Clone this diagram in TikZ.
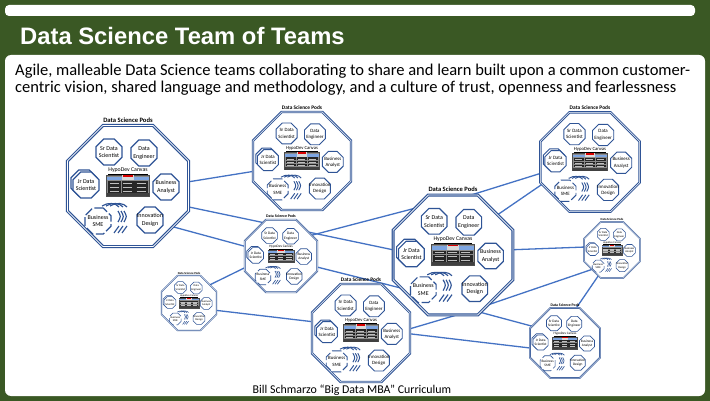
\documentclass[tikz,border=0pt]{standalone}
\usepackage{fontspec}
\setmainfont{Carlito}
\newfontfamily\titlefont{Liberation Sans}
\usetikzlibrary{shapes.geometric}

\definecolor{slidegreen}{RGB}{58,88,36}
\definecolor{podblue}{RGB}{47,84,150}
\definecolor{linkblue}{RGB}{68,114,196}
\definecolor{canvasblue}{RGB}{125,165,225}

\pgfdeclarelayer{panel}
\pgfdeclarelayer{links}
\pgfsetlayers{panel,links,main}

\tikzset{
  octa/.style={regular polygon, regular polygon sides=8, inner sep=0pt, draw=podblue, fill=white},
  podedge/.style={octa, minimum size=131pt, double=white},
  role/.style={octa, minimum size=28pt},
  roletext/.style={font=\fontsize{6}{7.6}\selectfont, align=center, inner sep=0pt},
  podtitle/.style={font=\bfseries\fontsize{6.6}{7.5}\selectfont, inner sep=0pt},
  link/.style={draw=linkblue, line width=1.3pt},
}

% one small role octagon: [style] name, position, text
\newcommand\role[4][]{%
  \node[role,#1] (#2) at (#3) {};
  \node[roletext] (#2-text) at (#2) {#4};}

% one pod: name, x, y, scale
\newcommand\pod[4]{%
  \pgfmathsetmacro\podlw{1.15*#4}%
  \pgfmathsetmacro\poddd{0.7*#4}%
  \begin{scope}[shift={(#2,#3)}, scale=#4, transform shape, line width=\podlw pt]
    \node[podedge, line width=\podlw pt, double distance=\poddd pt] (#1) at (0,0) {};
    \node[podtitle] (#1-title) at (0,-66) {Data Science Pods};
    \role{#1-sr}{-19,-34}{Sr Data\\Scientist}
    \role{#1-eng}{16,-33}{Data\\Engineer}
    \node[role] (#1-jrback) at (-44,-3) {};
    \role{#1-jr}{-42,-1}{Jr Data\\Scientist}
    \role{#1-ba}{38,1}{Business\\Analyst}
    \role[dash pattern=on 9pt off 2.5pt]{#1-sme}{-30,35}{Business\\SME}
    \role{#1-inno}{22,34}{Innovation\\Design}
    % swooshes round the SME
    \foreach \i in {0,1,2} {
      \draw[podblue] (-26+4*\i,20) .. controls (-20+4*\i,16) and (-12+4*\i,17) .. (-9+4*\i,21);
      \draw[podblue] (-10+3*\i,25) .. controls (-7+3*\i,30.5) .. (-10+3*\i,36);
      \draw[podblue] (-14+4*\i,47) -- (-9+4*\i,40);
    }
    % HypoDev canvas
    \node[font=\fontsize{5.8}{7}\selectfont, inner sep=0pt] (#1-canvastitle) at (0,-15) {\underline{HypoDev Canvas}};
    \node[draw=black!70, fill=black!45, minimum width=43pt, minimum height=21pt, inner sep=0pt, line width=0.4*\podlw pt] (#1-canvas) at (0,0) {};
    \fill[canvasblue] (-21,-9) rectangle (21,-5.5);
    \fill[black!15] (-6,-10.5) rectangle (6,-5.5);
    \fill[red!85!black] (-5,-10.5) rectangle (5,-9);
    \foreach \cx in {-20,-6.5,7}
      \foreach \cy in {-4.5,-0.5,3.5} {
        \fill[black!85] (\cx,\cy) rectangle ++(13,3.2);
        \draw[white!75!black, line width=0.3*\podlw pt] (\cx+1.5,\cy+1.6) -- ++(9,0);
      }
    \fill[black!75] (-21,7.5) rectangle (21,10.5);
  \end{scope}}

\begin{document}
\begin{tikzpicture}[x=1pt,y=-1pt]
  \useasboundingbox (0,0) rectangle (710,401);
  \begin{pgfonlayer}{panel}
    \fill[slidegreen] (0,0) rectangle (710,401);
    \fill[white, rounded corners=4pt] (5,5) rectangle (695,16);
    \fill[white, rounded corners=6pt] (5,55) rectangle (705,396);
  \end{pgfonlayer}

  \node[font=\titlefont\bfseries\fontsize{23.8}{26}\selectfont, text=white, anchor=west, inner sep=0pt] (title) at (20,36) {Data Science Team of Teams};
  \node[font=\fontsize{16.5}{16.5}\selectfont, anchor=north west, align=left, inner sep=0pt] (subtitle) at (15,64)
    {Agile, malleable Data Science teams collaborating to share and learn built upon a common customer-\\centric vision, shared language and methodology, and a culture of trust, openness and fearlessness};

  \pod{podA}{128}{186}{1}
  \pod{podB}{302}{161}{0.81}
  \pod{podC}{590}{162}{0.82}
  \pod{podD}{453}{255}{0.99}
  \pod{podE}{281}{256}{0.6}
  \pod{podF}{189}{303}{0.455}
  \pod{podG}{361}{333}{0.81}
  \pod{podH}{612}{250}{0.46}
  \pod{podI}{565}{343}{0.58}

  \begin{pgfonlayer}{links}
    \draw[link] (podA.4) -- (podB.192);
    \draw[link] (podA.341) -- (podD.175);
    \draw[link] (podA.318) -- (podE.165);
    \draw[link] (podE.34) -- (podD.130);
    \draw[link] (podE.343) -- (podD.212);
    \draw[link] (podE.198) -- (podF.41);
    \draw[link] (podF.345) -- (podG.167);
    \draw[link] (podG.5) -- (podD.272);
    \draw[link] (podG.359) -- (podI.188);
    \draw[link] (podD.296) -- (podI.153);
    \draw[link] (podD.42) -- (podC.205);
    \draw[link] (podD.72) -- (podC.193);
    \draw[link] (podD.5) -- (podH.174);
    \draw[link] (podD.306) -- (podH.224);
    \draw[link] (podH.242) -- (podI.72);
  \end{pgfonlayer}

  \node[font=\fontsize{11.9}{13}\selectfont, inner sep=0pt] (credit) at (352,390) {Bill Schmarzo “Big Data MBA” Curriculum};
\end{tikzpicture}
\end{document}
